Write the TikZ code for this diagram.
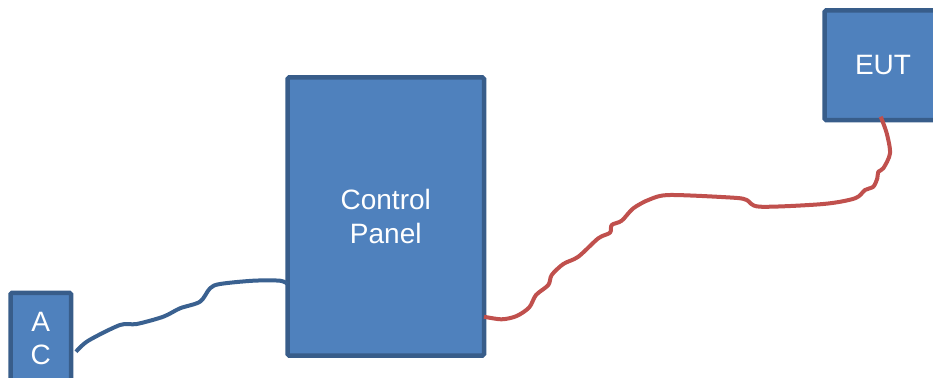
\documentclass[tikz,border=0pt]{standalone}
\usepackage{fontspec}
\setmainfont{Liberation Sans}
\definecolor{boxfill}{HTML}{4F81BD}
\definecolor{boxline}{HTML}{385D8A}
\definecolor{wireblue}{HTML}{3A6190}
\definecolor{wirered}{HTML}{C0504D}
\begin{document}
\begin{tikzpicture}[x=1pt,y=-1pt,
  box/.style={draw=boxline,fill=boxfill,line width=4.5pt,rounded corners=1.5pt,
    text=white,font=\fontsize{28}{33.3}\selectfont,align=center,inner sep=0pt,outer sep=0pt},
  wire/.style={line width=4pt,line join=round}]
\useasboundingbox (0,0) rectangle (933,377);
\clip (0,0) rectangle (933,377);
\node[box,minimum width=60.5pt,minimum height=91pt] (ac) at (40.75,338.3) {A\\C};
\node[box,minimum width=196.5pt,minimum height=278pt] (cp) at (385.75,216.5) {Control\\Panel};
\node[box,minimum width=117pt,minimum height=109.5pt] (eut) at (883,65.25) {EUT};
\coordinate (b0) at ([shift={(5,13.4)}]ac.east);
\coordinate (b1) at ([shift={(0,67.5)}]cp.west);
\draw[wire,wireblue] plot[smooth,tension=0.5] coordinates {(b0) (88.3,340.7) (120,325) (136.7,324) (163.3,316.7) (180,308.3) (200,301.7) (210,288.3) (220,284) (253.3,280.7) (280,280.7) (b1)};
\coordinate (r0) at ([shift={(0,100.2)}]cp.east);
\coordinate (r1) at ([shift={(-2.3,-3.3)}]eut.south);
\draw[wire,wirered] plot[smooth,tension=0.5] coordinates {(r0) (501.7,319.3) (516.7,316) (529.3,307.3) (536,295) (548.3,285) (551.7,275) (563.3,264) (578.3,256.7) (598.3,238.3) (610,232.7) (611.7,225) (621.7,220.7) (633.3,208.3) (650,199.3) (670,195) (733.3,197.7) (746.7,200) (760,206.7) (823.3,204) (855,198.3) (865,190) (873.3,186.7) (877.3,178.3) (878.3,171.7) (883.3,168.3) (890,153.3) (886.7,133.3) (r1)};
\end{tikzpicture}
\end{document}
